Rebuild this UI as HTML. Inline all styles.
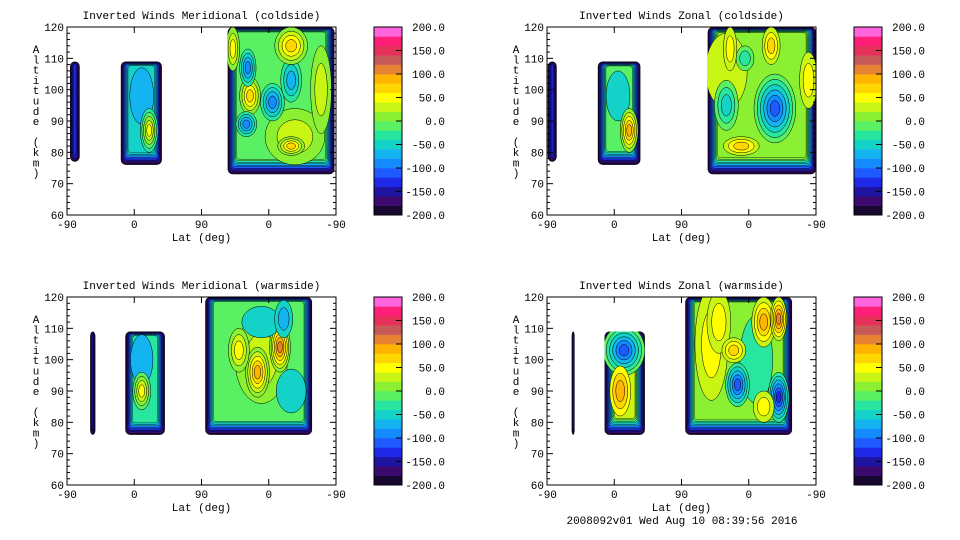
<!DOCTYPE html>
<html><head><meta charset="utf-8"><style>
body{margin:0;background:#fff}
svg{display:block;font-family:"Liberation Mono","DejaVu Sans Mono",monospace}
</style></head><body>
<svg id="chart" width="960" height="540" viewBox="0 0 960 540"></svg>
<script>
// colour levels (-200..200, step 20)
const levelColors=["#180830","#3c0a6e","#1e14a0","#1e28e6","#1e5aff","#148cff","#14b4f0","#14d2c8","#28e6a0","#5af064","#8cf032","#c8f514","#ffff00","#ffd700","#ffb400","#e68232","#c85a5a","#e6325a","#ff1e78","#ff64dc"];
const cbTicks=["200.0","150.0","100.0","50.0","0.0","-50.0","-100.0","-150.0","-200.0"];
const altTicks=[60,70,80,90,100,110,120];
const latTicks=["-90","0","90","0","-90"];
const titles=["Inverted Winds Meridional (coldside)","Inverted Winds Zonal (coldside)","Inverted Winds Meridional (warmside)","Inverted Winds Zonal (warmside)"];
// regions per panel: [u0,u1,alt0,alt1,baseValue]  (u = 0..360 along the lat axis)
const regions1=[[4,17,77,109,-130],[72,127,76,109,-50],[215,358,73,120,-10]];
const regions2=[[1,13,77,109,-130],[68,125,76,109,-20],[215,360,73,120,10]];
const regions3=[[31,38,76,109,-140],[78,131,76,109,-40],[185,328,76,120,-20]];
const regions4=[[33,37,76,109,-140],[77,131,76,109,20],[185,328,76,120,0]];
// blobs: [regionIndex,u,alt,ru,ralt,value]
const blobs1=[[1,100,98,16,9,-70],[1,110,87,12,7,40],[2,305,85,40,9,30],[2,340,100,14,14,30],[2,245,98,14,6,70],[2,242,107,11,6,-90],[2,240,89,14,4,-90],[2,275,96,16,6,-80],[2,300,103,14,7,-60],[2,300,114,22,6,60],[2,300,82,18,3,60],[2,222,113,9,7,40]];
const blobs2=[[1,95,98,16,8,-30],[1,110,87,12,7,80],[2,240,106,28,12,30],[2,350,103,12,9,40],[2,305,94,28,11,-110],[2,240,95,16,8,-50],[2,300,114,12,6,70],[2,265,110,12,4,-30],[2,260,82,24,3,60],[2,245,113,9,7,50]];
const blobs3=[[1,100,100,15,8,-60],[1,100,90,12,6,30],[2,260,100,35,14,20],[2,255,96,16,8,80],[2,285,104,14,8,90],[2,260,112,26,5,-40],[2,230,103,14,7,30],[2,300,90,20,7,-30],[2,290,113,12,6,-60]];
const blobs4=[[1,103,103,28,8,-100],[1,98,90,14,8,80],[2,220,105,22,18,40],[2,280,100,22,14,-20],[2,230,112,16,10,40],[2,255,92,16,7,-100],[2,310,88,14,8,-110],[2,290,112,16,8,70],[2,310,113,11,7,90],[2,290,85,14,5,40],[2,250,103,16,4,50]];
const allRegions=[regions1,regions2,regions3,regions4];
const allBlobs=[blobs1,blobs2,blobs3,blobs4];
const panelNames=["meridional-coldside","zonal-coldside","meridional-warmside","zonal-warmside"];

const NS="http://www.w3.org/2000/svg";
const svg=document.getElementById('chart');
function mk(tag,attrs,parent){const e=document.createElementNS(NS,tag);for(const k in attrs)e.setAttribute(k,attrs[k]);(parent||svg).appendChild(e);return e;}
function col(v){let i=Math.floor((v+200)/20);i=Math.max(0,Math.min(19,i));return levelColors[i];}

const origins=[[67,27],[547,27],[67,297],[547,297]];
const PW=269,PH=188;
for(let p=0;p<4;p++){
  const [ox,oy]=origins[p];
  const xs=u=>ox+u/360*PW;
  const ys=a=>oy+PH-(a-60)/60*PH;
  const g=mk('g',{});
  
  
  const t=mk('text',{x:ox+PW/2,y:oy-8,'text-anchor':'middle','font-size':11},g);t.textContent=titles[p];
  
  const regs=allRegions[p];
  regs.forEach((r,ri)=>{
    const [u0,u1,a0,a1,base]=r;
    const x0=xs(u0),x1=xs(u1),y0=ys(a1),y1=ys(a0);
    const rg=mk('g',{},g);
    
    
    const cid='clip'+p+'_'+ri;
    const cp=mk('clipPath',{id:cid},rg);
    mk('rect',{x:x0,y:y0,width:x1-x0,height:y1-y0,rx:5},cp);
    const inner=mk('g',{'clip-path':'url(#'+cid+')'},rg);
    const steps=Math.max(1,Math.round((base+200)/20));
    const w=x1-x0,h=y1-y0;
    for(let k=0;k<=steps;k++){
      const v=-200+k*20;const val=k===steps?base:v;
      const ix=Math.min(k*0.9,w/2-0.5);
      const it=Math.min(k*0.5,h/2-0.5);
      const ib=Math.min(k*1.5,h/2-0.5);
      mk('rect',{x:x0+ix,y:y0+it,width:Math.max(0.5,w-2*ix),height:Math.max(0.5,h-it-ib),rx:Math.max(1,5-k*0.2),fill:col(val),stroke:'#000','stroke-width':0.4},inner);
    }
    allBlobs[p].filter(b=>b[0]===ri).forEach(b=>{
      const [,u,a,ru,ra,v]=b;
      const n=Math.max(1,Math.round(Math.abs(v-base)/20));
      const sgn=v>base?1:-1;
      for(let k=1;k<=n;k++){
        const s=1-(k-1)/(n+0.5);
        const e=mk('ellipse',{cx:xs(u),cy:ys(a),rx:ru/360*PW*s,ry:ra/60*PH*s,fill:col(base+sgn*20*k+sgn*1),stroke:'#000','stroke-width':0.5},inner);
        
        
      }
    });
  });
  // axes frame
  mk('rect',{x:ox,y:oy,width:PW,height:PH,fill:'none',stroke:'#000','stroke-width':1},g);
  altTicks.forEach((a,i)=>{
    const y=ys(a);
    mk('line',{x1:ox,x2:ox+6,y1:y,y2:y,stroke:'#000'},g);
    mk('line',{x1:ox+PW,x2:ox+PW-6,y1:y,y2:y,stroke:'#000'},g);
    if(i<altTicks.length-1)for(let m=1;m<5;m++){const yy=ys(a+m*2);mk('line',{x1:ox,x2:ox+3,y1:yy,y2:yy,stroke:'#000'},g);mk('line',{x1:ox+PW,x2:ox+PW-3,y1:yy,y2:yy,stroke:'#000'},g);}
    const tl=mk('text',{x:ox-3,y:y+4,'text-anchor':'end','font-size':11},g);tl.textContent=a;
    
  });
  latTicks.forEach((l,i)=>{
    const x=xs(i*90);
    mk('line',{x1:x,x2:x,y1:oy+PH,y2:oy+PH-6,stroke:'#000'},g);
    mk('line',{x1:x,x2:x,y1:oy,y2:oy+6,stroke:'#000'},g);
    const tl=mk('text',{x:x,y:oy+PH+13,'text-anchor':'middle','font-size':11},g);tl.textContent=l;
    
  });
  const xl=mk('text',{x:ox+PW/2,y:oy+PH+26,'text-anchor':'middle','font-size':11},g);xl.textContent='Lat (deg)';
  
  const yl=mk('text',{x:ox-31,y:oy+22,'text-anchor':'middle','font-size':11},g);
  
  const chars="Altitude (km)".split('');
  chars.forEach((c,i)=>{const ts=mk('tspan',{x:ox-31,y:oy+26+i*10.3},yl);ts.textContent=c===' '?'\u00a0':c;});
  // colorbar
  const cx=ox+307,cw=28;
  const cb=mk('g',{},g);
  
  levelColors.forEach((c,i)=>{const bh=PH/20;mk('rect',{x:cx,y:oy+PH-(i+1)*bh,width:cw,height:bh+0.3,fill:c},cb);});
  mk('rect',{x:cx,y:oy,width:cw,height:PH,fill:'none',stroke:'#000'},cb);
  cbTicks.forEach((l,i)=>{
    const y=oy+i*PH/8;
    if(i>0&&i<8)mk('line',{x1:cx+cw-6,x2:cx+cw,y1:y,y2:y,stroke:'#000'},cb);
    const tl=mk('text',{x:cx+cw+43,y:y+4,'text-anchor':'end','font-size':11},cb);tl.textContent=l;
    
  });
}
const ft=mk('text',{x:682,y:524,'text-anchor':'middle','font-size':11});ft.textContent='2008092v01 Wed Aug 10 08:39:56 2016';

</script>
</body></html>
